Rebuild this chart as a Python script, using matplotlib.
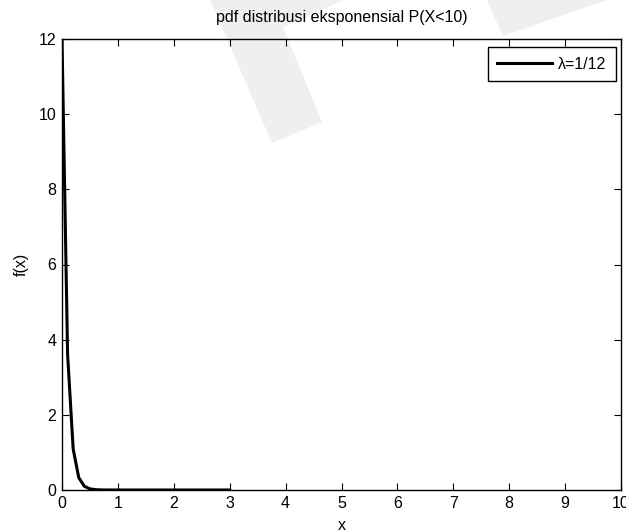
import matplotlib
matplotlib.use('Agg')
import matplotlib.pyplot as plt
from matplotlib.patches import Polygon

plt.rcParams['font.family'] = ['Liberation Sans', 'DejaVu Sans']

x_vals = [0.0, 0.1, 0.2, 0.3, 0.4, 0.5, 0.6, 0.7, 0.8, 0.9, 1.0,
          1.1, 1.2, 1.3, 1.4, 1.5, 1.6, 1.7, 1.8, 1.9, 2.0,
          2.1, 2.2, 2.3, 2.4, 2.5, 2.6, 2.7, 2.8, 2.9, 3.0]
f_vals = [12.0, 3.61, 1.09, 0.328, 0.099, 0.030, 0.009, 0.0027, 0.0008, 0.0002, 0.0001,
          0.0, 0.0, 0.0, 0.0, 0.0, 0.0, 0.0, 0.0, 0.0, 0.0,
          0.0, 0.0, 0.0, 0.0, 0.0, 0.0, 0.0, 0.0, 0.0, 0.0]
x_ticks = [0, 1, 2, 3, 4, 5, 6, 7, 8, 9, 10]
y_ticks = [0, 2, 4, 6, 8, 10, 12]
legend_label = 'λ=1/12'

W, H = 626, 532
fig = plt.figure(figsize=(W / 100, H / 100), dpi=100)
fig.patch.set_facecolor('white')

# faint watermark shapes in the background
def px_poly(pts):
    return Polygon([(px / W, 1 - py / H) for px, py in pts], closed=True,
                   transform=fig.transFigure, facecolor='#efefef',
                   edgecolor='none', zorder=-5)

fig.patches.append(px_poly([(210, 0), (343, 0), (283, 27), (322, 122), (272, 143)]))
fig.patches.append(px_poly([(487, 0), (607, 0), (503, 36)]))

ax = fig.add_axes([62 / W, 1 - 490 / H, (621 - 62) / W, (490 - 39) / H])
ax.set_facecolor('none')

ax.plot(x_vals, f_vals, color='black', lw=2.2, label=legend_label)

ax.set_xlim(0, 10)
ax.set_ylim(0, 12)
ax.set_xticks(x_ticks)
ax.set_yticks(y_ticks)
ax.tick_params(direction='in', top=True, right=True, length=5, width=0.8,
               labelsize=11.5, pad=4)
ax.tick_params(axis='x', pad=4)
for s in ax.spines.values():
    s.set_linewidth(1.0)

ax.set_title('pdf distribusi eksponensial P(X<10)', fontsize=11.5, pad=12)
ax.set_xlabel('x', fontsize=11.5, labelpad=5)
ax.set_ylabel('f(x)', fontsize=11.5, labelpad=7)

leg = ax.legend(loc='upper right', bbox_to_anchor=(1 - 5 / 559, 1 - 8 / 451),
                borderaxespad=0, fancybox=False, framealpha=1, edgecolor='black',
                fontsize=11.5, handlelength=3.4, handletextpad=0.4,
                borderpad=0.6)
leg.get_frame().set_linewidth(1.0)

fig.savefig('out.png', dpi=100, facecolor='white')
